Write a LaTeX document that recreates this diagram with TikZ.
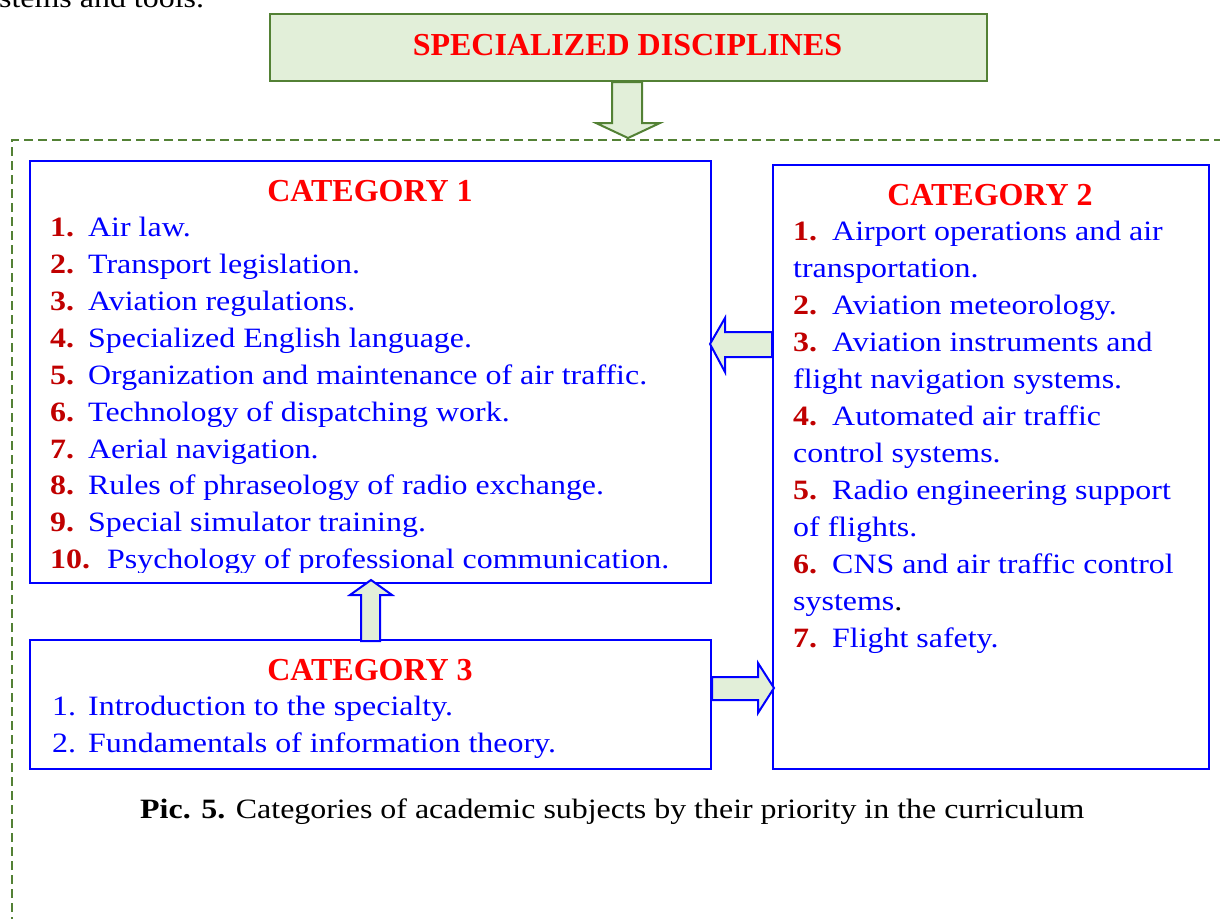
\documentclass[tikz,border=0pt]{standalone}
\usepackage{fontspec}
\setmainfont{Liberation Serif}
\newfontfamily\widefont[FakeStretch=1.14]{Liberation Serif}
\definecolor{gborder}{HTML}{538135}
\definecolor{gfill}{HTML}{E2EFD9}
\definecolor{bblue}{HTML}{0000FF}
\definecolor{hred}{HTML}{FF0000}
\definecolor{nred}{HTML}{C00000}
\tikzset{
  body/.style={inner sep=0pt, anchor=base west, text=bblue, font=\widefont\fontsize{28}{34}\selectfont},
  numb/.style={inner sep=0pt, anchor=base west, text=nred, font=\widefont\fontsize{28}{34}\selectfont\bfseries},
  head/.style={inner sep=0pt, anchor=base, text=hred, font=\fontsize{32}{38}\selectfont\bfseries},
  catbox/.style={draw=bblue, line width=2pt, anchor=north west, inner sep=0pt},
  garrow/.style={draw=gborder, fill=gfill, line width=2pt, line join=miter},
  barrow/.style={draw=bblue, fill=gfill, line width=2pt, line join=miter},
}
\begin{document}
\begin{tikzpicture}[x=1pt,y=-1pt]
\useasboundingbox (0,0) rectangle (1220,918);
\clip (0,0) rectangle (1220,918);
% top cut text
\node[inner sep=0pt, anchor=base west, font=\widefont\fontsize{28}{34}\selectfont] (toptext) at (-1,8) {stems and tools.};
% dashed frame
\draw[gborder, line width=2pt, dash pattern=on 9pt off 5pt] (12,940) -- (12,140) -- (1240,140);
% top box
\node[draw=gborder, fill=gfill, line width=2pt, minimum width=717pt, minimum height=67pt, anchor=north west, inner sep=0pt] (top) at (269,13) {};
\node[head] (toptitle) at (627.5,55) {SPECIALIZED DISCIPLINES};
% down arrow
\draw[garrow] (612,82) -- (642,82) -- (642,123) -- (660,123) -- (628,138) -- (596,123) -- (612,123) -- cycle;
% category boxes
\node[catbox, minimum width=681pt, minimum height=422pt] (c1) at (29,160) {};
\node[catbox, minimum width=436pt, minimum height=604pt] (c2) at (772,164) {};
\node[catbox, minimum width=681pt, minimum height=129pt] (c3) at (29,639) {};
% arrows between boxes
\draw[barrow] (772,332) -- (725,332) -- (725,318) -- (710,344) -- (725,372) -- (725,357) -- (772,357) -- cycle;
\draw[barrow] (361,641) -- (361,595) -- (350,595) -- (371,580) -- (392,595) -- (380,595) -- (380,641) -- cycle;
\draw[barrow] (712,677) -- (758,677) -- (758,663) -- (774,688) -- (758,713) -- (758,700) -- (712,700) -- cycle;
% category 1
\node[head] (h1) at (370,201) {CATEGORY 1};
\node[numb] (n11) at (50,236) {1.};  \node[body] (t11) at (88,236) {Air law.};
\node[numb] (n12) at (50,273) {2.};  \node[body] (t12) at (88,273) {Transport legislation.};
\node[numb] (n13) at (50,310) {3.};  \node[body] (t13) at (88,310) {Aviation regulations.};
\node[numb] (n14) at (50,347) {4.};  \node[body] (t14) at (88,347) {Specialized English language.};
\node[numb] (n15) at (50,384) {5.};  \node[body] (t15) at (88,384) {Organization and maintenance of air traffic.};
\node[numb] (n16) at (50,421) {6.};  \node[body] (t16) at (88,421) {Technology of dispatching work.};
\node[numb] (n17) at (50,458) {7.};  \node[body] (t17) at (88,458) {Aerial navigation.};
\node[numb] (n18) at (50,494) {8.};  \node[body] (t18) at (88,494) {Rules of phraseology of radio exchange.};
\node[numb] (n19) at (50,531) {9.};  \node[body] (t19) at (88,531) {Special simulator training.};
\begin{scope}
\clip (30,540) rectangle (709,572);
\node[numb] (n110) at (50,568) {10.}; \node[body] (t110) at (107,568) {Psychology of professional communication.};
\end{scope}
% category 2
\node[head] (h2) at (990,205) {CATEGORY 2};
\node[numb] (n21) at (793,240) {1.}; \node[body] (t21) at (832,240) {Airport operations and air};
\node[body] (t21b) at (793,277) {transportation.};
\node[numb] (n22) at (793,314) {2.}; \node[body] (t22) at (832,314) {Aviation meteorology.};
\node[numb] (n23) at (793,351) {3.}; \node[body] (t23) at (832,351) {Aviation instruments and};
\node[body] (t23b) at (793,388) {flight navigation systems.};
\node[numb] (n24) at (793,425) {4.}; \node[body] (t24) at (832,425) {Automated air traffic};
\node[body] (t24b) at (793,462) {control systems.};
\node[numb] (n25) at (793,499) {5.}; \node[body] (t25) at (832,499) {Radio engineering support};
\node[body] (t25b) at (793,536) {of flights.};
\node[numb] (n26) at (793,573) {6.}; \node[body] (t26) at (832,573) {CNS and air traffic control};
\node[body] (t26b) at (793,610) {systems\textcolor{black}{.}};
\node[numb] (n27) at (793,647) {7.}; \node[body] (t27) at (832,647) {Flight safety.};
% category 3
\node[head] (h3) at (370,680) {CATEGORY 3};
\node[body] (n31) at (52,715) {1.}; \node[body] (t31) at (88,715) {Introduction to the specialty.};
\node[body] (n32) at (52,752) {2.}; \node[body] (t32) at (88,752) {Fundamentals of information theory.};
% caption
\node[inner sep=0pt, anchor=base west, font=\widefont\fontsize{28}{34}\selectfont] (cap) at (140,818) {\textbf{Pic. 5.} Categories of academic subjects by their priority in the curriculum};
\end{tikzpicture}
\end{document}
